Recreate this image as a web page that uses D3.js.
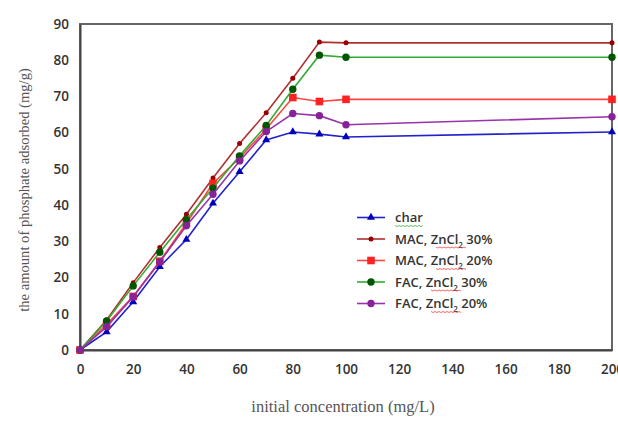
<!DOCTYPE html>
<html>
<head>
<meta charset="utf-8">
<script src="https://cdn.jsdelivr.net/npm/d3@7"></script>
<style>
  body { margin: 0; background: #fff; }
  .tick text { font-family: "Open Sans", sans-serif; font-weight: 600; font-size: 13.5px; fill: #333; }
  .title { font-family: "Liberation Serif", serif; fill: #555; }
  .leg { font-family: "Open Sans", sans-serif; font-weight: 600; font-size: 13px; fill: #333; }
</style>
</head>
<body>
<svg id="chart" width="618" height="429"></svg>
<script>
// concentrations (mg/L)
const conc = [0, 10, 20, 30, 40, 50, 60, 70, 80, 90, 100, 200];

// adsorbed amounts (mg/g)
const char_vals = [0, 5, 13.3, 23, 30.5, 40.5, 49.2, 58, 60.2, 59.6, 58.8, 60.2];
const mac30_vals = [0, 8.3, 18.6, 28.3, 37.5, 47.5, 57, 65.5, 75, 85, 84.8, 84.8];
const mac20_vals = [0, 7, 14.8, 24.5, 35, 46, 53, 61, 69.7, 68.6, 69.2, 69.2];
const fac30_vals = [0, 8, 17.7, 27, 36, 44.7, 53.6, 62, 72, 81.4, 80.8, 80.8];
const fac20_vals = [0, 6.4, 14.7, 24.3, 34.3, 43, 52.2, 60.3, 65.3, 64.7, 62.2, 64.4];

const series_names = ["char", "MAC, ZnCl2 30%", "MAC, ZnCl2 20%", "FAC, ZnCl2 30%", "FAC, ZnCl2 20%"];

const x_ticks = [0, 20, 40, 60, 80, 100, 120, 140, 160, 180, 200];
const y_ticks = [0, 10, 20, 30, 40, 50, 60, 70, 80, 90];

const series = [
  { name: series_names[0], vals: char_vals, line: "#2222cc", mark: "#0000bb", shape: "tri" },
  { name: series_names[1], vals: mac30_vals, line: "#b03030", mark: "#990000", shape: "dot" },
  { name: series_names[2], vals: mac20_vals, line: "#ff4444", mark: "#ff2222", shape: "sq" },
  { name: series_names[3], vals: fac30_vals, line: "#33aa33", mark: "#005500", shape: "circ" },
  { name: series_names[4], vals: fac20_vals, line: "#9933aa", mark: "#882299", shape: "circ" }
];

const svg = d3.select("#chart");
const margin = { left: 80, top: 24, right: 6, bottom: 79 };
const W = 618, H = 429;

const x = d3.scaleLinear().domain([0, 200]).range([margin.left, W - margin.right]);
const y = d3.scaleLinear().domain([0, 90]).range([H - margin.bottom, margin.top]);

// frame
svg.append("rect")
  .attr("x", x(0)).attr("y", y(90))
  .attr("width", x(200) - x(0)).attr("height", y(0) - y(90))
  .attr("fill", "none").attr("stroke", "#666").attr("stroke-width", 2);

const xAxis = svg.append("g")
  .attr("transform", `translate(0,${y(0)})`)
  .call(d3.axisBottom(x).tickValues(x_ticks).tickSize(0).tickPadding(14));
xAxis.select(".domain").attr("stroke", "#444").attr("stroke-width", 2);

const yAxis = svg.append("g")
  .attr("transform", `translate(${x(0)},0)`)
  .call(d3.axisLeft(y).tickValues(y_ticks).tickSize(0).tickPadding(11));
yAxis.select(".domain").attr("stroke", "#444").attr("stroke-width", 2);

function marker(g, shape, color, cx, cy) {
  if (shape === "tri") {
    g.append("path").attr("d", d3.symbol(d3.symbolTriangle, 28)())
      .attr("transform", `translate(${cx},${cy})`).attr("fill", color);
  } else if (shape === "sq") {
    g.append("rect").attr("x", cx - 3.8).attr("y", cy - 3.8).attr("width", 7.6).attr("height", 7.6)
      .attr("fill", color);
  } else if (shape === "dot") {
    g.append("circle").attr("cx", cx).attr("cy", cy).attr("r", 2.5).attr("fill", color);
  } else {
    g.append("circle").attr("cx", cx).attr("cy", cy).attr("r", 3.7).attr("fill", color);
  }
}

const line = d3.line().x(d => x(d[0])).y(d => y(d[1]));

series.forEach(s => {
  const pts = conc.map((c, i) => [c, s.vals[i]]);
  const g = svg.append("g");
  g.append("path").attr("d", line(pts)).attr("fill", "none")
    .attr("stroke", s.line).attr("stroke-width", 1.6);
  pts.forEach(p => marker(g, s.shape, s.mark, x(p[0]), y(p[1])));
});

// legend
const leg = svg.append("g");
series.forEach((s, i) => {
  const ly = 217.5 + i * 21.5;
  leg.append("line").attr("x1", 357).attr("x2", 385).attr("y1", ly).attr("y2", ly)
    .attr("stroke", s.line).attr("stroke-width", 1.6);
  marker(leg, s.shape, s.mark, 371, ly);
  const t = leg.append("text").attr("class", "leg").attr("x", 395).attr("y", ly + 4.5);
  if (i === 0) {
    t.append("tspan").text("char");
    leg.append("path")
      .attr("d", d3.range(0, 30, 2).map((d, k) => (k ? "L" : "M") + (395 + d) + "," + (ly + 8 + (k % 2))).join(""))
      .attr("fill", "none").attr("stroke", "#44aa44").attr("stroke-width", 0.8);
  } else {
    const parts = s.name.split("ZnCl2");
    t.append("tspan").text(parts[0]);
    t.append("tspan").text("ZnCl");
    t.append("tspan").attr("dy", 4).attr("font-size", 8).text("2");
    t.append("tspan").attr("dy", -4).text(parts[1]);
    // spell-check squiggle under ZnCl
    const start = parts[0].startsWith("MAC") ? 436 : 431;
    leg.append("path")
      .attr("d", d3.range(0, 32, 2).map((d, k) => (k ? "L" : "M") + (start + d) + "," + (ly + 8 + (k % 2))).join(""))
      .attr("fill", "none").attr("stroke", "#ee4444").attr("stroke-width", 0.8);
  }
});

// axis titles
svg.append("text").attr("class", "title")
  .attr("x", 343).attr("y", 412).attr("text-anchor", "middle")
  .style("font-size", "16.5px")
  .text("initial concentration (mg/L)");
svg.append("text").attr("class", "title")
  .attr("transform", `translate(29,190) rotate(-90)`)
  .attr("text-anchor", "middle")
  .style("font-size", "14.6px")
  .text("the amount of phosphate adsorbed (mg/g)");
</script>
</body>
</html>
